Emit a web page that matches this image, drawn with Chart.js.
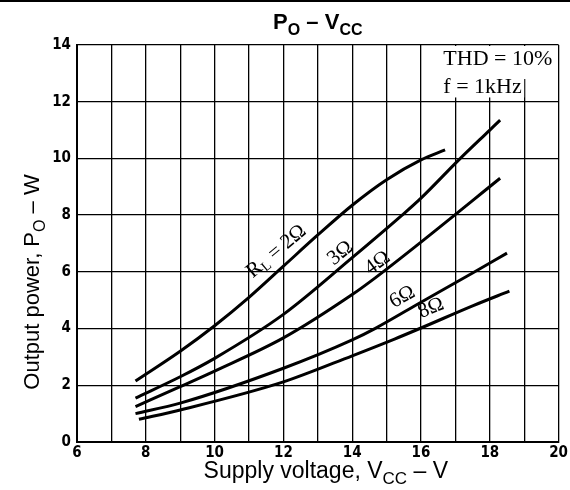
<!DOCTYPE html>
<html>
<head>
<meta charset="utf-8">
<script src="https://cdn.jsdelivr.net/npm/chart.js@4.4.0/dist/chart.umd.min.js"></script>
<style>
  html, body { margin: 0; padding: 0; background: #fff; }
  #wrap { width: 570px; height: 490px; }
</style>
</head>
<body>
<div id="wrap"><canvas id="chart" width="570" height="490"></canvas></div>
<script>
// Supply voltage (V) and output power (W)
const vcc2 = [7.7, 9, 10, 11, 12, 13, 14, 15, 16, 16.7];
const po2  = [2.15, 3.2, 4.1, 5.1, 6.2, 7.3, 8.35, 9.25, 9.95, 10.3];
const vcc3 = [7.7, 9, 10, 12, 14, 15.45, 16, 17.1, 18, 18.3];
const po3  = [1.55, 2.3, 2.95, 4.5, 6.5, 8.0, 8.6, 9.95, 11.0, 11.35];
const vcc4 = [7.7, 9, 10, 12, 14, 14.66, 16, 18.3];
const po4  = [1.25, 1.95, 2.5, 3.67, 5.2, 5.78, 7.05, 9.3];
const vcc6 = [7.7, 9, 12, 14, 14.66, 16, 17.5, 18.5];
const po6  = [1.0, 1.37, 2.6, 3.6, 4.0, 4.93, 5.96, 6.66];
const vcc8 = [7.8, 9, 12, 14, 15.23, 16, 17.5, 18.57];
const po8  = [0.8, 1.13, 2.12, 3.04, 3.63, 4.02, 4.8, 5.32];

// curve labels: [text, subscript, rest, x, y, angle]
const curveLabels = [
  ['R', 'L', ' = 2\u03A9', 11.8, 6.72, -40],
  ['3\u03A9', '', '', 13.66, 6.66, -39],
  ['4\u03A9', '', '', 14.74, 6.31, -36],
  ['6\u03A9', '', '', 15.46, 5.11, -29],
  ['8\u03A9', '', '', 16.29, 4.72, -22]
];

const conditions = ['THD = 10%', 'f = 1kHz'];

function pts(xs, ys) {
  return xs.map((x, i) => ({ x: x, y: ys[i] }));
}

function line(label, xs, ys) {
  return {
    label: label,
    data: pts(xs, ys),
    borderColor: '#000',
    borderWidth: 3,
    pointRadius: 0,
    fill: false,
    cubicInterpolationMode: 'monotone'
  };
}

// draw text pieces with subscripts, returns width
function drawPieces(ctx, pieces, x, y, size, bold, measureOnly) {
  let w = 0;
  pieces.forEach(p => {
    const s = p.sub ? Math.round(size * 0.72) : size;
    ctx.font = (bold ? 'bold ' : '') + s + 'px "Liberation Sans", Arial, sans-serif';
    if (!measureOnly) ctx.fillText(p.t, x + w, y + (p.sub ? size * 0.28 : 0));
    w += ctx.measureText(p.t).width;
  });
  return w;
}

const serif = '"Liberation Serif", "DejaVu Serif", serif';

const textPlugin = {
  id: 'texts',
  beforeDatasetsDraw(chart) {
    const ctx = chart.ctx;
    const xs = chart.scales.x, ys = chart.scales.y;
    // white box behind the conditions
    ctx.save();
    ctx.fillStyle = '#fff';
    ctx.fillRect(xs.getPixelForValue(16.1), ys.getPixelForValue(14) + 1,
      xs.getPixelForValue(19) - xs.getPixelForValue(16.1), ys.getPixelForValue(12.15) - ys.getPixelForValue(14) - 1);
    ctx.fillRect(xs.getPixelForValue(19) - 1, ys.getPixelForValue(14) + 1,
      xs.getPixelForValue(20) - xs.getPixelForValue(19), ys.getPixelForValue(12.8) - ys.getPixelForValue(14) - 1);
    ctx.restore();
  },
  afterDraw(chart) {
    const ctx = chart.ctx;
    const xs = chart.scales.x, ys = chart.scales.y;
    const area = chart.chartArea;
    const cx = (area.left + area.right) / 2;
    ctx.save();
    ctx.fillStyle = '#000';
    ctx.textBaseline = 'alphabetic';
    ctx.textAlign = 'left';

    // outer frame top line
    ctx.fillRect(0, 0, 570, 2);

    // title
    let title = [{ t: 'P' }, { t: 'O', sub: true }, { t: ' \u2013 V' }, { t: 'CC', sub: true }];
    let w = drawPieces(ctx, title, 0, 0, 22, true, true);
    drawPieces(ctx, title, cx - w / 2, 29, 22, true);

    // x axis title
    let xt = [{ t: 'Supply voltage, V' }, { t: 'CC', sub: true }, { t: ' \u2013 V' }];
    w = drawPieces(ctx, xt, 0, 0, 23, false, true);
    drawPieces(ctx, xt, cx + 8 - w / 2, 478, 23, false);

    // y axis title
    let yt = [{ t: 'Output power, P' }, { t: 'O', sub: true }, { t: ' \u2013 W' }];
    w = drawPieces(ctx, yt, 0, 0, 22, false, true);
    ctx.translate(39, 282);
    ctx.rotate(-Math.PI / 2);
    drawPieces(ctx, yt, -w / 2, 0, 22, false);
    ctx.setTransform(1, 0, 0, 1, 0, 0);
    ctx.restore();

    // conditions
    ctx.save();
    ctx.fillStyle = '#000';
    ctx.font = '22px ' + serif;
    ctx.textAlign = 'left';
    ctx.fillText(conditions[0], xs.getPixelForValue(16.65), 65);
    ctx.fillText(conditions[1], xs.getPixelForValue(16.65), 93);
    ctx.restore();

    // curve labels
    curveLabels.forEach(l => {
      ctx.save();
      ctx.translate(xs.getPixelForValue(l[3]), ys.getPixelForValue(l[4]));
      ctx.rotate(l[5] * Math.PI / 180);
      ctx.fillStyle = '#000';
      ctx.textBaseline = 'middle';
      const big = '21px ' + serif;
      const small = '14px ' + serif;
      ctx.font = big;
      let w1 = ctx.measureText(l[0]).width;
      ctx.font = small;
      let w2 = l[1] ? ctx.measureText(l[1]).width : 0;
      ctx.font = big;
      let w3 = l[2] ? ctx.measureText(l[2]).width : 0;
      let x0 = -(w1 + w2 + w3) / 2;
      ctx.fillText(l[0], x0, 0);
      if (l[1]) {
        ctx.font = small;
        ctx.fillText(l[1], x0 + w1, 5);
        ctx.font = big;
        ctx.fillText(l[2], x0 + w1 + w2, 0);
      }
      ctx.restore();
    });
  }
};

const tickFont = { family: '"Liberation Sans Narrow", "DejaVu Sans Condensed", sans-serif', size: 15, weight: 'bold' };

new Chart(document.getElementById('chart').getContext('2d'), {
  type: 'line',
  data: {
    datasets: [
      line('2', vcc2, po2),
      line('3', vcc3, po3),
      line('4', vcc4, po4),
      line('6', vcc6, po6),
      line('8', vcc8, po8)
    ]
  },
  options: {
    responsive: false,
    animation: false,
    layout: { padding: { top: 45, right: 3, left: 0, bottom: 0 } },
    plugins: {
      legend: { display: false },
      tooltip: { enabled: false },
      title: { display: false }
    },
    scales: {
      x: {
        type: 'linear',
        min: 6,
        max: 20,
        afterFit: s => { s.height = 48; },
        ticks: {
          stepSize: 1,
          color: '#000',
          font: tickFont,
          padding: 2,
          maxRotation: 0,
          autoSkip: false,
          callback: v => (v % 2 === 0 ? v : '')
        },
        grid: { color: '#000', lineWidth: 1.3, drawTicks: false },
        border: { color: '#000', width: 2 }
      },
      y: {
        min: 0,
        max: 14,
        afterFit: s => { s.width = 77; },
        ticks: {
          stepSize: 2,
          color: '#000',
          font: tickFont,
          padding: 6
        },
        grid: { color: '#000', lineWidth: 1.3, drawTicks: false },
        border: { color: '#000', width: 2 }
      }
    }
  },
  plugins: [textPlugin]
});
</script>
</body>
</html>
